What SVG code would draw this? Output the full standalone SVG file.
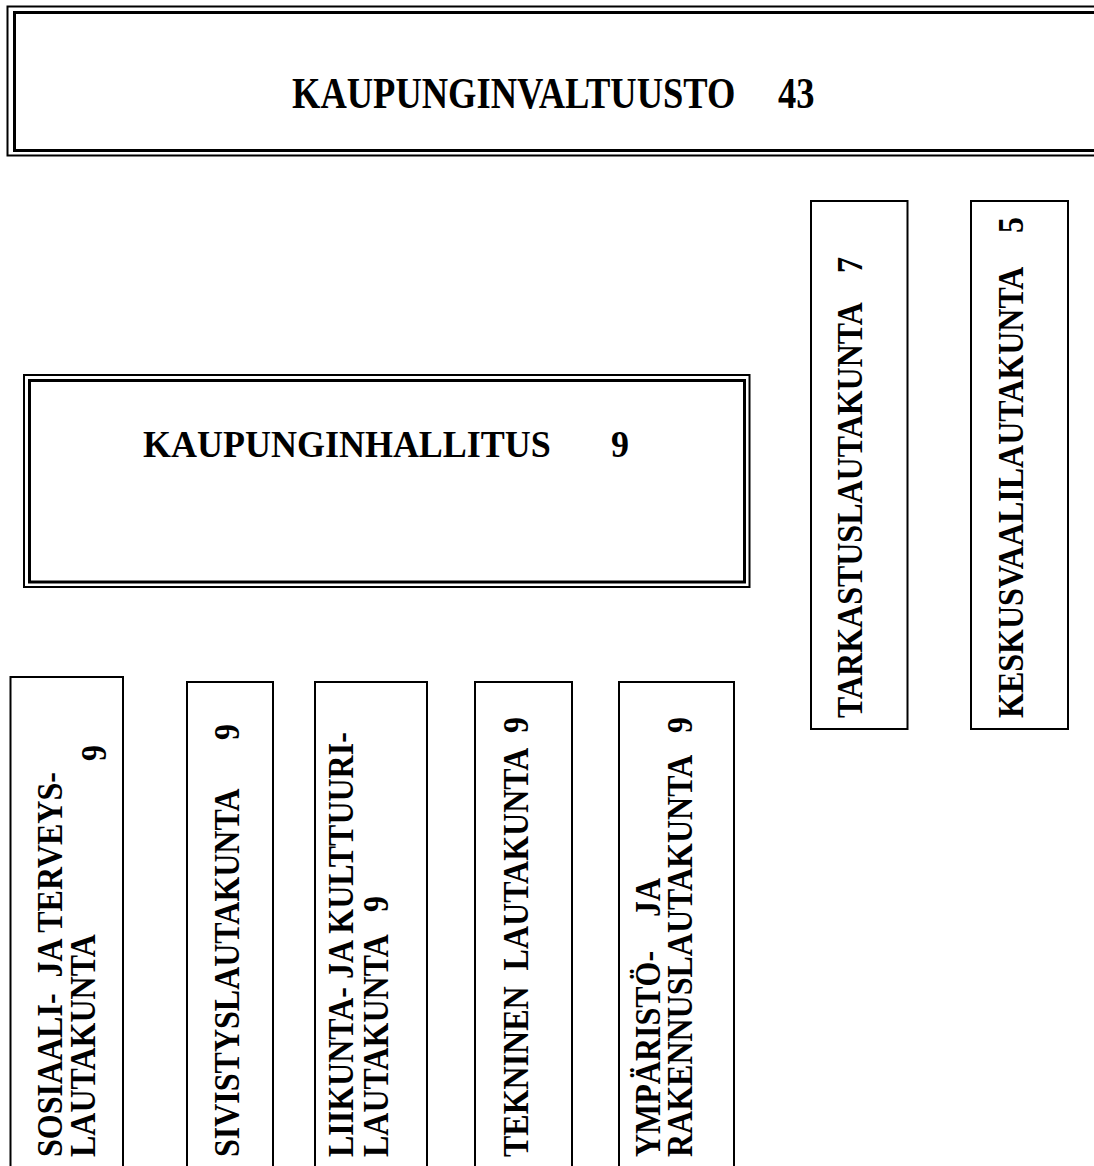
<svg xmlns="http://www.w3.org/2000/svg" width="1094" height="1166" viewBox="0 0 1094 1166">
<style>
.t{font-family:"Liberation Serif","Times New Roman",serif;font-weight:bold;fill:#000}
.big{font-size:36px}
.v{font-size:32px}
.o{fill:#fff;stroke:#000;stroke-width:2}
.i{fill:none;stroke:#000;stroke-width:3}
.b{fill:#fff;stroke:#000;stroke-width:2}
</style>
<rect width="1094" height="1166" fill="#fff"/>
<g id="valtuusto">
<rect class="o" x="7.5" y="6.5" width="1100" height="149"/>
<rect class="i" x="14.5" y="12.5" width="1100" height="138"/>
<text class="t" font-size="36.5" transform="translate(292,108) scale(1,1.22)"><tspan x="0">KAUPUNGINVALTUUSTO</tspan><tspan x="486">43</tspan></text>
</g>
<g id="hallitus">
<rect class="o" x="24" y="375" width="725.5" height="212"/>
<rect class="i" x="29.5" y="380.5" width="715" height="201.5"/>
<text class="t big" transform="translate(143,457) scale(1,1.06)"><tspan x="0">KAUPUNGINHALLITUS</tspan><tspan x="468">9</tspan></text>
</g>
<g id="tarkastus">
<rect class="b" x="811" y="201" width="96.5" height="528"/>
<text class="t v" transform="translate(862,718) rotate(-90) scale(1,1.15)"><tspan x="0">TARKASTUSLAUTAKUNTA</tspan><tspan x="445">7</tspan></text>
</g>
<g id="keskusvaali">
<rect class="b" x="971" y="201" width="97" height="528"/>
<text class="t v" transform="translate(1023,718) rotate(-90) scale(1,1.15)"><tspan x="0">KESKUSVAALILAUTAKUNTA</tspan><tspan x="485">5</tspan></text>
</g>
<g id="sosiaali">
<rect class="b" x="10.5" y="677" width="112.5" height="520"/>
<text class="t v" transform="translate(62,1157) rotate(-90) scale(1,1.15)" xml:space="preserve">SOSIAALI-  JA TERVEYS-</text>
<text class="t v" transform="translate(95,1157) rotate(-90) scale(1,1.15)">LAUTAKUNTA</text>
<text class="t v" transform="translate(106,1157) rotate(-90) scale(1,1.15)" x="396">9</text>
</g>
<g id="sivistys">
<rect class="b" x="187" y="682" width="86" height="520"/>
<text class="t v" transform="translate(239,1157) rotate(-90) scale(1,1.15)"><tspan x="0">SIVISTYSLAUTAKUNTA</tspan><tspan x="417">9</tspan></text>
</g>
<g id="liikunta">
<rect class="b" x="315" y="682" width="112" height="520"/>
<text class="t v" transform="translate(353,1157) rotate(-90) scale(1,1.15)">LIIKUNTA- JA KULTTUURI-</text>
<text class="t v" transform="translate(388,1157) rotate(-90) scale(1,1.15)"><tspan x="0">LAUTAKUNTA</tspan><tspan x="245">9</tspan></text>
</g>
<g id="tekninen">
<rect class="b" x="475" y="682" width="97" height="520"/>
<text class="t v" transform="translate(528,1157) rotate(-90) scale(1,1.15)" xml:space="preserve"><tspan x="0">TEKNINEN  LAUTAKUNTA</tspan><tspan x="424">9</tspan></text>
</g>
<g id="ymparisto">
<rect class="b" x="619" y="682" width="115" height="520"/>
<text class="t v" transform="translate(660,1157) rotate(-90) scale(1,1.15)"><tspan x="0">YMPÄRISTÖ-</tspan><tspan x="240">JA</tspan></text>
<text class="t v" transform="translate(692,1157) rotate(-90) scale(1,1.15)"><tspan x="0">RAKENNUSLAUTAKUNTA</tspan><tspan x="424">9</tspan></text>
</g>
<g id="connectors"></g>
</svg>
